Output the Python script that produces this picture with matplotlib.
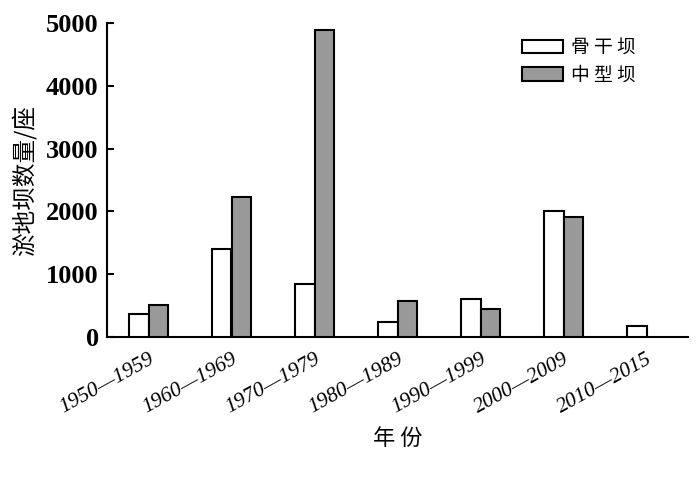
import matplotlib
matplotlib.use("Agg")
import matplotlib.pyplot as plt
import matplotlib.transforms as mtransforms
import numpy as np

categories = ["1950—1959", "1960—1969", "1970—1979", "1980—1989",
              "1990—1999", "2000—2009", "2010—2015"]
backbone = [366, 1401, 849, 239, 605, 2006, 170]      # 骨干坝
medium = [510, 2224, 4889, 573, 446, 1916, 0]         # 中型坝
yticks = [0, 1000, 2000, 3000, 4000, 5000]

cjk = ["Noto Sans CJK SC", "DejaVu Sans"]
serif = ["Liberation Serif", "DejaVu Serif"]

fig = plt.figure(figsize=(7.0, 4.83), dpi=100)
ax = fig.add_axes([107/700, 1-337/483, (688-107)/700, (337-23)/483])

x = np.arange(len(categories))
w = 0.24
ax.bar(x - w/2, backbone, w, color="white", edgecolor="black", linewidth=1.5, label="骨 干 坝", zorder=3)
mask = [v > 0 for v in medium]
ax.bar(x[mask] + w/2, np.array(medium)[mask], w, color="#999999", edgecolor="black", linewidth=1.5, label="中 型 坝", zorder=3)

ax.set_xlim(-0.5, 6.5)
ax.set_ylim(0, 5000)
ax.set_yticks(yticks)
ax.set_yticklabels([str(t) for t in yticks], family=serif, fontsize=19, fontweight="bold")
ax.tick_params(axis="y", direction="in", length=5, width=1.5, pad=6)
ax.tick_params(axis="x", length=0, pad=4)
ax.set_xticks(x)
ax.set_xticklabels(categories, family=serif, style="italic", fontsize=15.5,
                   rotation=29, ha="right", va="top", rotation_mode="anchor")
offset = mtransforms.ScaledTranslation(0/100, -7/100, fig.dpi_scale_trans)
for lbl in ax.get_xticklabels():
    lbl.set_transform(lbl.get_transform() + offset)

for s in ["top", "right"]:
    ax.spines[s].set_visible(False)
for s in ["left", "bottom"]:
    ax.spines[s].set_linewidth(1.5)

ax.set_ylabel("淤地坝数量/座", family=cjk, fontsize=17, labelpad=6)
ax.set_xlabel("年 份", family=cjk, fontsize=16)
ax.xaxis.set_label_coords(0.5, -(438-337)/314, transform=None)
ax.xaxis.label.set_va("center")

leg = ax.legend(loc="upper left", bbox_to_anchor=((522-107)/581, (337-37)/314), frameon=False,
                prop={"family": cjk, "size": 13.5}, handlelength=2.2, handleheight=0.75,
                handletextpad=0.4, labelspacing=0.35, borderaxespad=0, borderpad=0)

fig.savefig("out.png", dpi=100)
